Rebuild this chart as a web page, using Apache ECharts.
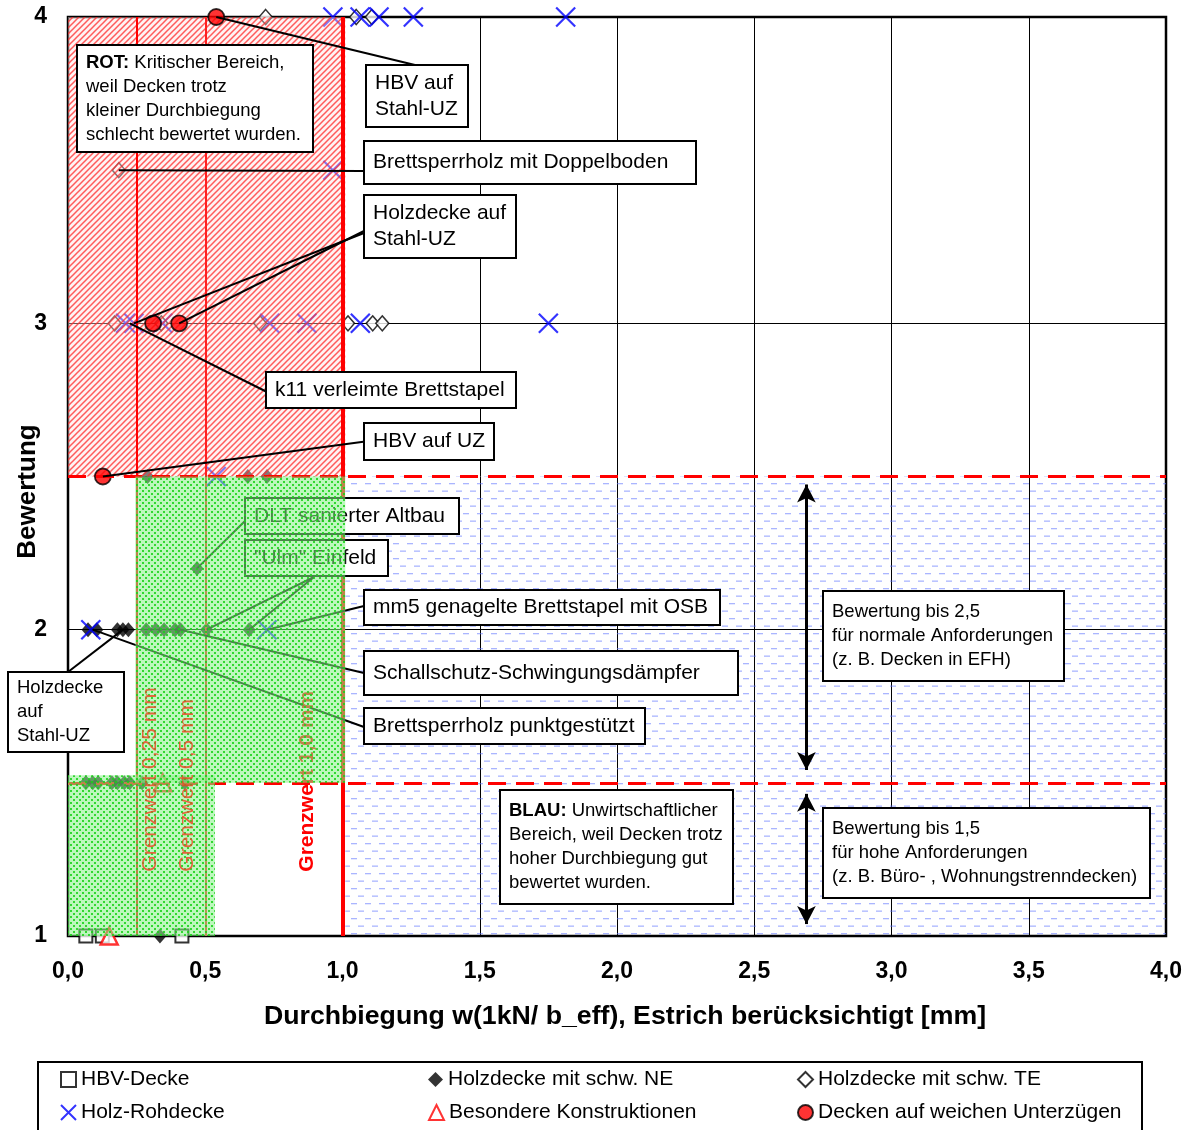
<!DOCTYPE html>
<html lang="de">
<head>
<meta charset="utf-8">
<title>Bewertung über Durchbiegung</title>
<style>
  html, body { margin: 0; padding: 0; background: #fff; }
  #chart { width: 1186px; height: 1130px; }
</style>
</head>
<body>
<div id="chart"></div>
<script src="https://cdn.jsdelivr.net/npm/echarts@6/dist/echarts.min.js"></script>
<script>
// Messpunkte: [Durchbiegung in mm, Bewertung]
var hbvDecke = [[0.065, 1], [0.125, 1], [0.415, 1]];
var holzdeckeNE = [
  [0.335, 1],
  [0.065, 1.5], [0.09, 1.5], [0.11, 1.5], [0.16, 1.5], [0.18, 1.5], [0.205, 1.5], [0.225, 1.5], [0.27, 1.5], [0.425, 1.5],
  [0.073, 2], [0.105, 2], [0.18, 2], [0.2, 2], [0.22, 2], [0.285, 2], [0.32, 2], [0.35, 2], [0.39, 2], [0.41, 2], [0.505, 2], [0.66, 2],
  [0.47, 2.2],
  [0.29, 2.5], [0.655, 2.5], [0.725, 2.5]
];
var holzdeckeTE = [
  [0.17, 3], [0.34, 3], [0.70, 3], [1.02, 3], [1.11, 3], [1.145, 3],
  [0.185, 3.5],
  [0.72, 4], [1.05, 4], [1.107, 4]
];
var holzRohdecke = [
  [0.083, 2], [0.725, 2],
  [0.54, 2.5],
  [0.21, 3], [0.24, 3], [0.345, 3], [0.735, 3], [0.87, 3], [1.065, 3], [1.75, 3],
  [0.965, 3.5],
  [0.965, 4], [1.064, 4], [1.133, 4], [1.258, 4], [1.813, 4]
];
var besondere = [[0.15, 1], [0.345, 1.5]];
var weicheUZ = [[0.127, 2.5], [0.31, 3], [0.405, 3], [0.54, 4]];

// Grenzwerte und Bereiche [x0, y0, x1, y1]
var grenzwerte = [0.25, 0.5, 1.0];
var bewertungsGrenzen = [1.5, 2.5];
var rotBereich = [[0, 2.5, 1.01, 4]];
var gruenBereich = [[0.245, 1.5, 1.01, 2.5], [0, 1, 0.535, 1.525]];
var blauBereich = [[1.01, 1, 4, 2.5]];

var legendeNamen = ['HBV-Decke', 'Holzdecke mit schw. NE', 'Holzdecke mit schw. TE',
  'Holz-Rohdecke', 'Besondere Konstruktionen', 'Decken auf weichen Unterzügen'];

var FONT = "'Liberation Sans', Arial, Helvetica, sans-serif";

function muster(w, h, zeichne) {
  var c = document.createElement('canvas');
  c.width = w; c.height = h;
  zeichne(c.getContext('2d'));
  return { image: c, repeat: 'repeat' };
}
var rotMuster = muster(6, 6, function (g) {
  g.fillStyle = 'rgba(255,225,225,0.4)';
  g.fillRect(0, 0, 6, 6);
  g.strokeStyle = 'rgba(255,40,40,0.75)';
  g.lineWidth = 1.5;
  g.beginPath();
  g.moveTo(-1, 7); g.lineTo(7, -1);
  g.moveTo(-3, 3); g.lineTo(3, -3);
  g.moveTo(3, 9); g.lineTo(9, 3);
  g.stroke();
});
var gruenMuster = muster(6, 6, function (g) {
  g.fillStyle = 'rgba(135,240,135,0.55)';
  g.fillRect(0, 0, 6, 6);
  g.fillStyle = 'rgba(25,210,25,0.85)';
  g.fillRect(1, 1, 2, 2);
  g.fillRect(4, 4, 2, 2);
});
var blauMuster = muster(14, 15, function (g) {
  g.fillStyle = 'rgba(100,120,255,0.55)';
  g.fillRect(1, 3, 6, 1.3);
  g.fillRect(8, 10.5, 6, 1.3);
});

function bereich(data, fill, z) {
  return {
    type: 'custom', data: data, z: z, silent: true, clip: false,
    encode: { x: [0, 2], y: [1, 3] },
    renderItem: function (params, api) {
      var a = api.coord([api.value(0), api.value(3)]);
      var b = api.coord([api.value(2), api.value(1)]);
      return { type: 'rect', shape: { x: a[0], y: a[1], width: b[0] - a[0], height: b[1] - a[1] }, style: { fill: fill } };
    }
  };
}

function punkte(name, data, symbol, size, style, z) {
  return { type: 'scatter', name: name, data: data, symbol: symbol, symbolSize: size, itemStyle: style, z: z || 2, silent: true };
}

// je Eintrag eine Legende: 3 Spalten, 2 Zeilen
var legendeSpalten = [60, 428, 797];
var legendeZeilen = [1069, 1102];
var legenden = legendeNamen.map(function (name, i) {
  return {
    left: legendeSpalten[i % 3], top: legendeZeilen[Math.floor(i / 3)], padding: 0,
    itemWidth: 15, itemHeight: 15, selectedMode: false,
    textStyle: { fontSize: 21, fontFamily: FONT, color: '#000' },
    data: [name]
  };
});

// Hinweiskästen (Pixel-Layout)
var kaesten = [
  { text: '{b|ROT:} Kritischer Bereich,\nweil Decken trotz\nkleiner Durchbiegung\nschlecht bewertet wurden.', x: 77, y: 45, w: 236, h: 107, size: 18.5, lh: 24 },
  { text: 'HBV auf\nStahl-UZ', x: 366, y: 65, w: 102, h: 62, size: 21, lh: 26 },
  { text: 'Brettsperrholz mit Doppelboden', x: 364, y: 141, w: 332, h: 43, size: 21, lh: 26 },
  { text: 'Holzdecke auf\nStahl-UZ', x: 364, y: 195, w: 152, h: 63, size: 21, lh: 26 },
  { text: 'k11 verleimte Brettstapel', x: 266, y: 372, w: 250, h: 36, size: 21, lh: 26 },
  { text: 'HBV auf UZ', x: 364, y: 423, w: 130, h: 37, size: 21, lh: 26 },
  { text: 'DLT sanierter Altbau', x: 245, y: 498, w: 214, h: 36, size: 21, lh: 26 },
  { text: '"Ulm" Einfeld', x: 245, y: 540, w: 143, h: 36, size: 21, lh: 26 },
  { text: 'mm5 genagelte Brettstapel mit OSB', x: 364, y: 590, w: 356, h: 35, size: 21, lh: 26 },
  { text: 'Schallschutz-Schwingungsdämpfer', x: 364, y: 651, w: 374, h: 44, size: 21, lh: 26 },
  { text: 'Brettsperrholz punktgestützt', x: 364, y: 708, w: 281, h: 36, size: 21, lh: 26 },
  { text: 'Holzdecke\nauf\nStahl-UZ', x: 8, y: 672, w: 116, h: 80, size: 18.5, lh: 24 },
  { text: 'Bewertung bis 2,5\nfür normale Anforderungen\n(z. B. Decken in EFH)', x: 823, y: 591, w: 241, h: 90, size: 18.5, lh: 24 },
  { text: 'Bewertung bis 1,5\nfür hohe Anforderungen\n(z. B. Büro- , Wohnungstrenndecken)', x: 823, y: 808, w: 327, h: 90, size: 18.5, lh: 24 },
  { text: '{b|BLAU:} Unwirtschaftlicher\nBereich, weil Decken trotz\nhoher Durchbiegung gut\nbewertet wurden.', x: 500, y: 790, w: 233, h: 114, size: 18.5, lh: 24 }
];

// Zeigerlinien: Messpunkt -> Kasten (Pixel)
var zeiger = [
  { punkt: [0.54, 4], zu: [415, 65] },
  { punkt: [0.185, 3.5], zu: [364, 171] },
  { punkt: [0.405, 3], zu: [364, 231] },
  { punkt: [0.24, 3], zu: [364, 233] },
  { punkt: [0.225, 3], zu: [267, 392] },
  { punkt: [0.127, 2.5], zu: [369, 441] },
  { punkt: [0.47, 2.2], zu: [247, 519] },
  { punkt: [0.505, 2], zu: [314, 577] },
  { punkt: [0.66, 2], zu: [314, 577] },
  { punkt: [0.725, 2], zu: [364, 606] },
  { punkt: [0.41, 2], zu: [364, 673] },
  { punkt: [0.09, 2], zu: [364, 727] },
  { punkt: [0.2, 2], zu: [68, 672] }
];

var grenzTexte = [
  { text: 'Grenzwert 0,25 mm', at: [0.30, 1.21], bold: false, fill: 'rgba(235,70,35,0.82)', z: 7 },
  { text: 'Grenzwert 0,5 mm', at: [0.435, 1.21], bold: false, fill: 'rgba(235,70,35,0.82)', z: 7 },
  { text: 'Grenzwert 1,0 mm', at: [0.872, 1.21], bold: true, fill: '#ff0000', z: 5 }
];

function komma(v) { return v.toFixed(1).replace('.', ','); }

var chart = echarts.init(document.getElementById('chart'));

var rotLinien = grenzwerte.map(function (v) {
  return { xAxis: v, lineStyle: { width: v === 1.0 ? 4 : 2, type: 'solid', color: v === 0.5 ? '#ff2020' : '#ff0000' } };
}).concat(bewertungsGrenzen.map(function (v) {
  return { yAxis: v, lineStyle: { width: 3, type: [18, 10], color: '#ff0000' } };
}));

chart.setOption({
  animation: false,
  grid: { left: 68, right: 20, top: 17, bottom: 194, outerBoundsMode: 'none', containLabel: false },
  xAxis: {
    type: 'value', min: 0, max: 4, interval: 0.5,
    axisLine: { show: false }, axisTick: { show: false },
    splitLine: { show: true, lineStyle: { color: '#000', width: 1 } },
    axisLabel: { formatter: komma, fontSize: 23, fontWeight: 'bold', color: '#000', fontFamily: FONT, margin: 24 },
    name: 'Durchbiegung w(1kN/ b_eff), Estrich berücksichtigt [mm]',
    nameLocation: 'middle', nameGap: 67, nameMoveOverlap: false,
    nameTextStyle: { fontSize: 26.7, fontWeight: 'bold', color: '#000', fontFamily: FONT, padding: [0, 0, 0, 16] }
  },
  yAxis: {
    type: 'value', min: 1, max: 4, interval: 1,
    axisLine: { show: false }, axisTick: { show: false },
    splitLine: { show: true, lineStyle: { color: '#000', width: 1 } },
    axisLabel: { fontSize: 23, fontWeight: 'bold', color: '#000', fontFamily: FONT, margin: 21 },
    name: 'Bewertung', nameLocation: 'middle', nameGap: 27, nameMoveOverlap: false,
    nameTextStyle: { fontSize: 26, fontWeight: 'bold', color: '#000', fontFamily: FONT, padding: [0, 30, 0, 0] }
  },
  legend: legenden,
  series: [
    punkte('HBV-Decke', hbvDecke, 'rect', 13, { color: '#fff', borderColor: '#000', borderWidth: 2 }),
    punkte('Holzdecke mit schw. NE', holzdeckeNE, 'diamond', [13, 15], { color: '#000' }),
    punkte('Holzdecke mit schw. TE', holzdeckeTE, 'diamond', [13, 15], { color: '#fff', borderColor: '#000', borderWidth: 1.5 }),
    punkte('Besondere Konstruktionen', besondere, 'triangle', 17, { color: '#fff', borderColor: '#ff0000', borderWidth: 2.5 }),
    punkte('Holz-Rohdecke', holzRohdecke, 'path://M0,0L10,10M10,0L0,10', 19, { color: '#0000ff', borderColor: '#0000ff', borderWidth: 2.2 }),
    punkte('Decken auf weichen Unterzügen', weicheUZ, 'circle', 16, { color: '#ff0000', borderColor: '#000', borderWidth: 1.8 }, 3.2),
    bereich(rotBereich, rotMuster, 3),
    bereich(blauBereich, blauMuster, 3),
    bereich(gruenBereich, gruenMuster, 6),
    {
      type: 'scatter', name: 'grenzen', data: [], silent: true,
      markLine: { z: 3.5, silent: true, symbol: 'none', label: { show: false }, data: rotLinien }
    },
    {
      type: 'scatter', name: 'zeiger', data: [], silent: true,
      markLine: {
        z: 4, silent: true, symbol: 'none', label: { show: false },
        lineStyle: { color: '#000', width: 2, type: 'solid' },
        data: zeiger.map(function (l) { return [{ coord: l.punkt }, { x: l.zu[0], y: l.zu[1] }]; })
      }
    },
    {
      type: 'scatter', name: 'pfeile', data: [], silent: true,
      markLine: {
        z: 4, silent: true, symbol: ['arrow', 'arrow'], symbolSize: [14, 18], label: { show: false },
        lineStyle: { color: '#000', width: 3, type: 'solid' },
        data: [
          [{ coord: [2.69, 2.474] }, { coord: [2.69, 1.542] }],
          [{ coord: [2.69, 1.464] }, { coord: [2.69, 1.039] }]
        ]
      }
    }
  ]
});

// Kästen, Rahmen und gedrehte Grenzwert-Beschriftungen
var grafik = [];
grafik.push({ type: 'rect', z: 1, shape: { x: 68, y: 17, width: 1098, height: 919 }, style: { fill: 'none', stroke: '#000', lineWidth: 2.5 } });
grafik.push({ type: 'rect', z: 0, shape: { x: 38, y: 1062, width: 1104, height: 90 }, style: { fill: '#fff', stroke: '#000', lineWidth: 2 } });
kaesten.forEach(function (k) {
  var n = k.text.split('\n').length;
  grafik.push({ type: 'rect', z: 4, shape: { x: k.x, y: k.y, width: k.w, height: k.h }, style: { fill: '#fff', stroke: '#000', lineWidth: 2 } });
  grafik.push({
    type: 'text', z: 4, x: k.x + 9, y: k.y + (k.h - n * k.lh) / 2,
    style: {
      text: k.text, fontSize: k.size, fontFamily: FONT, lineHeight: k.lh, fill: '#000', verticalAlign: 'top',
      rich: { b: { fontWeight: 'bold', fontSize: k.size, fontFamily: FONT, lineHeight: k.lh, fill: '#000' } }
    }
  });
});
grenzTexte.forEach(function (t) {
  var p = chart.convertToPixel({ gridIndex: 0 }, t.at);
  grafik.push({
    type: 'text', z: t.z, x: p[0], y: p[1], rotation: Math.PI / 2,
    style: { text: t.text, fontSize: 21, fontWeight: t.bold ? 'bold' : 'normal', fontFamily: FONT, fill: t.fill, align: 'left', verticalAlign: 'middle' }
  });
});
chart.setOption({ graphic: { elements: grafik } });
</script>
</body>
</html>
